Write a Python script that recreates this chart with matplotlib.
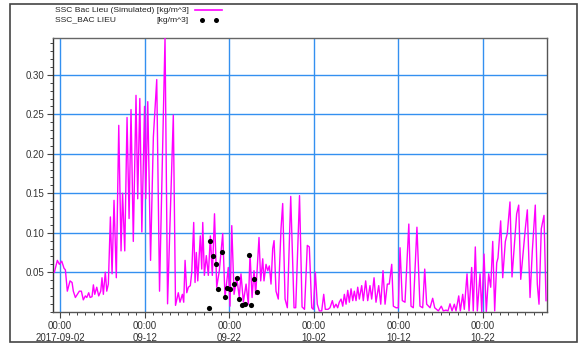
import matplotlib
matplotlib.use("Agg")
import matplotlib.pyplot as plt
import matplotlib.dates as mdates
from matplotlib.lines import Line2D
from matplotlib.patches import Rectangle
from matplotlib.ticker import MultipleLocator, FixedLocator, FixedFormatter
import numpy as np
import pandas as pd

plt.rcParams['font.family'] = ['Liberation Sans', 'DejaVu Sans']

# ---------------- data ----------------
base_time = "2017-09-02 00:00"

# simulated SSC: time offset (days from base) and value (kg/m^3)
sim_days = [
    -0.67, -0.32, -0.08, 0.20, 0.47, 0.63, 0.86, 1.18, 1.42, 1.57, 1.81, 2.04, 2.28, 2.52,
    2.75, 2.99, 3.16, 3.39, 3.55, 3.78, 3.94, 4.10, 4.34, 4.57, 4.81, 4.96, 5.12, 5.35,
    5.52, 5.71, 5.95, 6.15, 6.38, 6.65, 6.94, 7.21, 7.39, 7.65, 7.92, 8.16, 8.39, 8.66,
    8.98, 9.18, 9.43, 9.67, 9.99, 10.13, 10.37, 10.70, 11.03, 11.43, 11.76, 12.41, 12.71,
    13.39, 13.65,
    13.98, 14.18, 14.46, 14.62, 14.78, 14.98, 15.17, 15.40, 15.57, 15.80, 15.96, 16.11,
    16.28, 16.58, 16.75, 16.87, 17.06, 17.29, 17.53, 17.77, 18.00, 18.26, 18.52, 18.83,
    19.23, 19.50, 19.89, 20.09, 20.30, 20.57, 20.89, 21.19, 21.39, 21.67, 21.99, 22.26,
    22.46, 22.70, 22.93, 23.13, 23.52, 23.72, 23.96, 24.11, 24.35, 24.55, 24.74, 24.94,
    25.14, 25.30, 25.53, 25.80, 26.12, 26.32, 26.60, 26.87, 27.27, 27.66, 27.86, 28.31,
    28.61, 28.90,
    29.23, 29.47, 29.75, 29.94, 30.18, 30.41, 30.65, 30.93, 31.17, 31.36, 31.68, 31.91,
    32.19, 32.39, 32.62, 32.82, 33.01, 33.22, 33.42, 33.61, 33.81, 34.01, 34.20, 34.40,
    34.60, 34.79, 34.99, 35.19, 35.38, 35.66, 35.85, 36.13, 36.37, 36.64, 36.84, 37.12,
    37.35, 37.67, 37.91, 38.18, 38.42, 38.69, 38.92, 39.21, 39.40, 39.72, 39.99, 40.19,
    40.46, 40.78, 41.23, 41.49, 41.76, 42.19, 42.55, 42.87, 43.11, 43.34, 43.74, 44.05,
    44.29, 44.72, 45.07, 45.31, 45.63, 45.86, 46.10, 46.34, 46.61, 46.81, 47.13, 47.32,
    47.60, 47.79, 48.11, 48.35, 48.66, 48.85, 49.09, 49.33, 49.65, 49.85, 50.12, 50.39,
    50.67, 50.91, 51.15, 51.38, 51.62, 51.77, 52.09, 52.33, 52.64, 52.87, 53.19, 53.43,
    53.66, 53.98, 54.22, 54.46, 54.76, 55.00, 55.24, 55.56, 55.83, 56.18, 56.42, 56.62,
    56.89, 57.21, 57.45,
]
sim_values = [
    0.050, 0.065, 0.060, 0.064, 0.055, 0.053, 0.026, 0.039, 0.037, 0.026, 0.018, 0.022, 0.026, 0.026,
    0.015, 0.020, 0.018, 0.024, 0.018, 0.019, 0.034, 0.022, 0.031, 0.020, 0.026, 0.043, 0.022, 0.050,
    0.026, 0.035, 0.120, 0.048, 0.141, 0.043, 0.236, 0.077, 0.150, 0.077, 0.246, 0.118, 0.256, 0.089,
    0.274, 0.143, 0.270, 0.101, 0.260, 0.143, 0.266, 0.065, 0.221, 0.294, 0.026, 0.347, 0.010,
    0.249, 0.008,
    0.024, 0.012, 0.022, 0.012, 0.065, 0.024, 0.031, 0.033, 0.050, 0.113, 0.037, 0.075,
    0.039, 0.096, 0.054, 0.113, 0.046, 0.071, 0.046, 0.096, 0.046, 0.124, 0.031, 0.052,
    0.099, 0.018, 0.056, 0.007, 0.109, 0.022, 0.043, 0.018, 0.048, 0.012, 0.035, 0.0095,
    0.073, 0.018, 0.052, 0.022, 0.094, 0.039, 0.067, 0.039, 0.060, 0.052, 0.058, 0.035,
    0.080, 0.090, 0.026, 0.016, 0.105, 0.137, 0.016, 0.005, 0.146, 0.005, 0.005, 0.147,
    0.006, 0.003,
    0.084, 0.082, 0.005, 0.003, 0.050, 0.0095, 0.001, 0.001, 0.022, 0.003, 0.003, 0.005,
    0.014, 0.005, 0.0095, 0.005, 0.012, 0.016, 0.007, 0.022, 0.0095, 0.027, 0.012, 0.029,
    0.014, 0.026, 0.014, 0.031, 0.016, 0.033, 0.014, 0.039, 0.014, 0.033, 0.016, 0.043,
    0.012, 0.033, 0.0095, 0.052, 0.0095, 0.035, 0.035, 0.060, 0.007, 0.005, 0.005, 0.081,
    0.014, 0.012, 0.111, 0.007, 0.005, 0.107, 0.007, 0.005, 0.054, 0.0095, 0.005, 0.017,
    0.005, 0.001, 0.007, 0.001, 0.002, 0.001, 0.010, 0.001, 0.0095, 0.001, 0.020, 0.001,
    0.022, 0.003, 0.048, 0.001, 0.056, 0.001, 0.082, 0.001, 0.048, 0.000, 0.073, 0.000,
    0.048, 0.031, 0.089, 0.001, 0.062, 0.068, 0.115, 0.043, 0.089, 0.099, 0.139, 0.044,
    0.077, 0.124, 0.135, 0.041, 0.077, 0.105, 0.129, 0.018, 0.077, 0.135, 0.035, 0.0095,
    0.105, 0.122, 0.014,
]

# observed SSC: time offset (days from base) and value (kg/m^3)
obs_days = [17.61, 17.73, 18.03, 18.38, 18.71, 19.15, 19.47, 19.76, 20.13,
            20.53, 20.89, 21.19, 21.55, 21.89, 22.30, 22.61, 22.97, 23.29]
obs_values = [0.005, 0.089, 0.070, 0.060, 0.029, 0.075, 0.018, 0.030, 0.029,
              0.035, 0.043, 0.016, 0.008, 0.010, 0.072, 0.009, 0.041, 0.025]

x_tick_dates = ["2017-09-02", "2017-09-12", "2017-09-22", "2017-10-02", "2017-10-12", "2017-10-22"]
x_tick_labels = ["00:00\n2017-09-02", "00:00\n09-12", "00:00\n09-22",
                 "00:00\n10-02", "00:00\n10-12", "00:00\n10-22"]
y_ticks = [0.05, 0.10, 0.15, 0.20, 0.25, 0.30]
y_tick_labels = ["0.05", "0.10", "0.15", "0.20", "0.25", "0.30"]

legend_sim = "SSC Bac Lieu (Simulated) [kg/m^3]"
legend_obs = "SSC_BAC LIEU"
legend_obs_unit = "[kg/m^3]"

# ---------------- plotting ----------------
t0 = pd.Timestamp(base_time)
sim_t = t0 + pd.to_timedelta(np.array(sim_days), unit="D")
obs_t = t0 + pd.to_timedelta(np.array(obs_days), unit="D")

W, H = 579, 344
fig = plt.figure(figsize=(W / 100, H / 100), dpi=100)
ax = fig.add_axes([53 / W, 1 - 311.7 / H, (546.7 - 53) / W, (311.7 - 37.7) / H])

grid_c = "#3390f0"
line_c = "#ff00ff"
txt_c = "#333333"

ax.plot(sim_t, sim_values, color=line_c, lw=1.0, zorder=3)
ax.scatter(obs_t, obs_values, s=14, color="black", zorder=4, linewidths=0)

ax.set_xlim(t0 - pd.Timedelta(hours=20), t0 + pd.Timedelta(days=57.53))
ax.set_ylim(0.0, 0.347)

xt = [mdates.date2num(pd.Timestamp(d)) for d in x_tick_dates]
ax.xaxis.set_major_locator(FixedLocator(xt))
ax.xaxis.set_major_formatter(FixedFormatter(x_tick_labels))
ax.xaxis.set_minor_locator(mdates.DayLocator())
ax.yaxis.set_major_locator(FixedLocator(y_ticks))
ax.yaxis.set_major_formatter(FixedFormatter(y_tick_labels))
ax.yaxis.set_minor_locator(MultipleLocator(0.01))

ax.grid(True, which="major", color=grid_c, lw=1.0, zorder=1)
ax.set_axisbelow(True)

ax.tick_params(axis="both", which="major", labelsize=7, labelcolor=txt_c,
               color="#444444", length=4, width=0.8, pad=2)
ax.tick_params(axis="both", which="minor", color="#444444", length=2.5, width=0.7)
ax.tick_params(axis="x", which="major", pad=3)

for s in ax.spines.values():
    s.set_color("#555555")
    s.set_linewidth(1.0)
ax.spines["left"].set_color("#333333")
ax.spines["top"].set_color("#666666")

# outer frame
fig.add_artist(Rectangle((10 / W, 1 - 342 / H), 567 / W, 338 / H, transform=fig.transFigure,
                         fill=False, edgecolor="#444444", lw=1.2))

# legend
y1 = 1 - 10 / H
y2 = 1 - 20 / H
fig.text(55 / W, y1, legend_sim, fontsize=6.1, color="#222222", va="center", ha="left")
fig.text(55 / W, y2, legend_obs, fontsize=6.1, color="#222222", va="center", ha="left")
fig.text(188 / W, y2, legend_obs_unit, fontsize=6.1, color="#222222", va="center", ha="right")
fig.add_artist(Line2D([195 / W, 222 / W], [y1, y1], transform=fig.transFigure, color=line_c, lw=1.2))
fig.add_artist(Line2D([202 / W, 216 / W], [y2, y2], transform=fig.transFigure, ls="none",
                      marker="o", markersize=3.6, color="black", markeredgewidth=0))

fig.savefig("out.png", dpi=100)
